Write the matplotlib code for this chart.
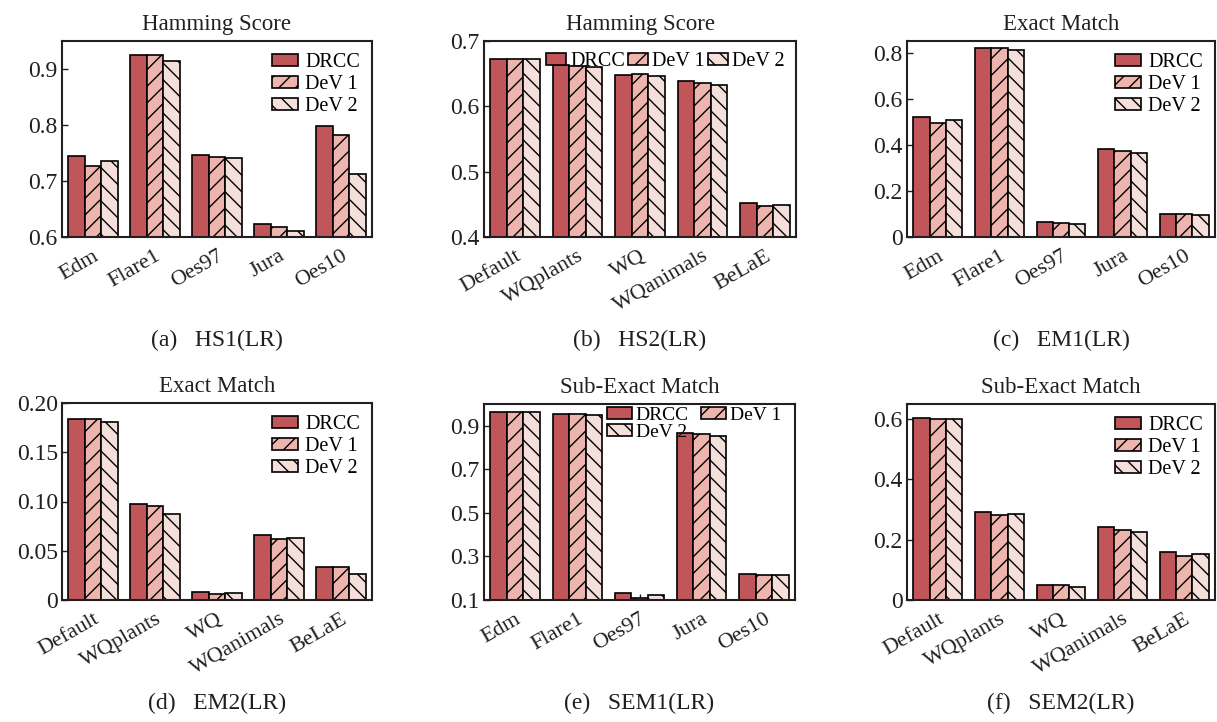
import matplotlib
matplotlib.use("Agg")
import matplotlib.pyplot as plt
import numpy as np

plt.rcParams['font.family'] = ['Liberation Serif', 'DejaVu Serif']
plt.rcParams['hatch.linewidth'] = 1.0

series_names = ["DRCC", "DeV 1", "DeV 2"]
cats1 = ["Edm", "Flare1", "Oes97", "Jura", "Oes10"]
cats2 = ["Default", "WQplants", "WQ", "WQanimals", "BeLaE"]

hs1_drcc = [0.744, 0.925, 0.746, 0.624, 0.799]
hs1_dev1 = [0.726, 0.925, 0.742, 0.617, 0.782]
hs1_dev2 = [0.736, 0.915, 0.741, 0.611, 0.713]

hs2_drcc = [0.673, 0.664, 0.648, 0.639, 0.452]
hs2_dev1 = [0.673, 0.661, 0.650, 0.635, 0.448]
hs2_dev2 = [0.672, 0.660, 0.646, 0.632, 0.449]

em1_drcc = [0.522, 0.820, 0.065, 0.383, 0.098]
em1_dev1 = [0.494, 0.819, 0.059, 0.373, 0.098]
em1_dev2 = [0.507, 0.811, 0.055, 0.366, 0.095]

em2_drcc = [0.184, 0.097, 0.0078, 0.0663, 0.0333]
em2_dev1 = [0.1837, 0.0956, 0.0058, 0.0622, 0.0333]
em2_dev2 = [0.181, 0.0874, 0.0068, 0.0633, 0.0269]

sem1_drcc = [0.964, 0.954, 0.131, 0.866, 0.221]
sem1_dev1 = [0.963, 0.952, 0.109, 0.860, 0.216]
sem1_dev2 = [0.963, 0.949, 0.123, 0.854, 0.213]

sem2_drcc = [0.602, 0.291, 0.049, 0.241, 0.159]
sem2_dev1 = [0.600, 0.283, 0.049, 0.232, 0.147]
sem2_dev2 = [0.601, 0.286, 0.044, 0.224, 0.153]

colors = ["#C0565A", "#EDB5AE", "#F5DFDB"]
hatches = [None, "//", "\\\\"]
text_color = "#231F20"

W, H = 1217, 722
fig = plt.figure(figsize=(W / 100, H / 100), dpi=100)


def add_ax(x0, x1, ytop, ybot):
    return fig.add_axes([x0 / W, 1 - ybot / H, (x1 - x0) / W, (ybot - ytop) / H])


panels = [
    dict(box=(62, 372, 41, 237), cats=cats1, data=[hs1_drcc, hs1_dev1, hs1_dev2],
         ylim=(0.6, 0.95), ticks=[0.6, 0.7, 0.8, 0.9], labels=["0.6", "0.7", "0.8", "0.9"],
         title="Hamming Score", cap="(a)   HS1(LR)", leg="col"),
    dict(box=(484, 796, 41, 237), cats=cats2, data=[hs2_drcc, hs2_dev1, hs2_dev2],
         ylim=(0.4, 0.7), ticks=[0.4, 0.5, 0.6, 0.7], labels=["0.4", "0.5", "0.6", "0.7"],
         title="Hamming Score", cap="(b)   HS2(LR)", leg="row"),
    dict(box=(907, 1215, 41, 237), cats=cats1, data=[em1_drcc, em1_dev1, em1_dev2],
         ylim=(0, 0.85), ticks=[0, 0.2, 0.4, 0.6, 0.8], labels=["0", "0.2", "0.4", "0.6", "0.8"],
         title="Exact Match", cap="(c)   EM1(LR)", leg="col"),
    dict(box=(62, 372, 403, 600), cats=cats2, data=[em2_drcc, em2_dev1, em2_dev2],
         ylim=(0, 0.20), ticks=[0, 0.05, 0.10, 0.15, 0.20], labels=["0", "0.05", "0.10", "0.15", "0.20"],
         title="Exact Match", cap="(d)   EM2(LR)", leg="col"),
    dict(box=(484, 795, 404, 600), cats=cats1, data=[sem1_drcc, sem1_dev1, sem1_dev2],
         ylim=(0.1, 1.0), ticks=[0.1, 0.3, 0.5, 0.7, 0.9], labels=["0.1", "0.3", "0.5", "0.7", "0.9"],
         title="Sub-Exact Match", cap="(e)   SEM1(LR)", leg="two"),
    dict(box=(907, 1215, 404, 600), cats=cats2, data=[sem2_drcc, sem2_dev1, sem2_dev2],
         ylim=(0, 0.65), ticks=[0, 0.2, 0.4, 0.6], labels=["0", "0.2", "0.4", "0.6"],
         title="Sub-Exact Match", cap="(f)   SEM2(LR)", leg="col"),
]

bw = 0.265
for p in panels:
    x0, x1, yt, yb = p["box"]
    ax = add_ax(x0, x1, yt, yb)
    x = np.arange(len(p["cats"]))
    base = p["ylim"][0]
    handles = []
    for i, (vals, c, h, name) in enumerate(zip(p["data"], colors, hatches, series_names)):
        vals = np.asarray(vals)
        b = ax.bar(x + (i - 1) * bw, vals - base, bw, bottom=base, color=c, edgecolor="black",
                   linewidth=1.2, hatch=h, label=name, zorder=2)
        handles.append(b)
    ax.set_xlim(-0.5, len(p["cats"]) - 0.5)
    ax.set_ylim(*p["ylim"])
    ax.set_yticks(p["ticks"])
    ax.set_yticklabels(p["labels"])
    ax.set_xticks(x)
    ax.set_xticklabels(p["cats"], rotation=30, ha="right", rotation_mode="anchor")
    ax.tick_params(axis="both", direction="in", length=4, width=1.0,
                   colors=text_color, labelcolor=text_color)
    ax.tick_params(axis="x", pad=7, labelsize=16)
    ax.tick_params(axis="y", pad=3, labelsize=17)
    for s in ax.spines.values():
        s.set_linewidth(1.5)
        s.set_color(text_color)
    ax.set_title(p["title"], fontsize=16.5, color=text_color, pad=8)
    if p["leg"] == "col":
        ax.legend(loc="upper right", frameon=False, fontsize=14.5, handlelength=1.3,
                  handleheight=0.55, labelspacing=0.15, handletextpad=0.35,
                  borderaxespad=0.2, bbox_to_anchor=(1.0, 1.0))
    elif p["leg"] == "row":
        ax.legend(loc="upper right", frameon=False, fontsize=14.5, ncol=3, handlelength=1.0,
                  handleheight=0.55, handletextpad=0.2, columnspacing=0.15,
                  borderaxespad=0.15, bbox_to_anchor=(1.0, 1.0))
    else:
        h3 = [handles[0], handles[2], handles[1]]
        l3 = [series_names[0], series_names[2], series_names[1]]
        ax.legend(h3, l3, loc="upper left", frameon=False, fontsize=14, ncol=2,
                  handlelength=1.3, handleheight=0.5, handletextpad=0.2, columnspacing=0.6,
                  labelspacing=0.0, borderaxespad=0.0, borderpad=0.15,
                  bbox_to_anchor=(0.385, 1.0))
    cx = (x0 + x1) / 2 / W
    cy = 1 - (340 if yt < 300 else 703) / H
    fig.text(cx, cy, p["cap"], ha="center", va="center", fontsize=17, color=text_color)

fig.savefig("out.png", dpi=100)
